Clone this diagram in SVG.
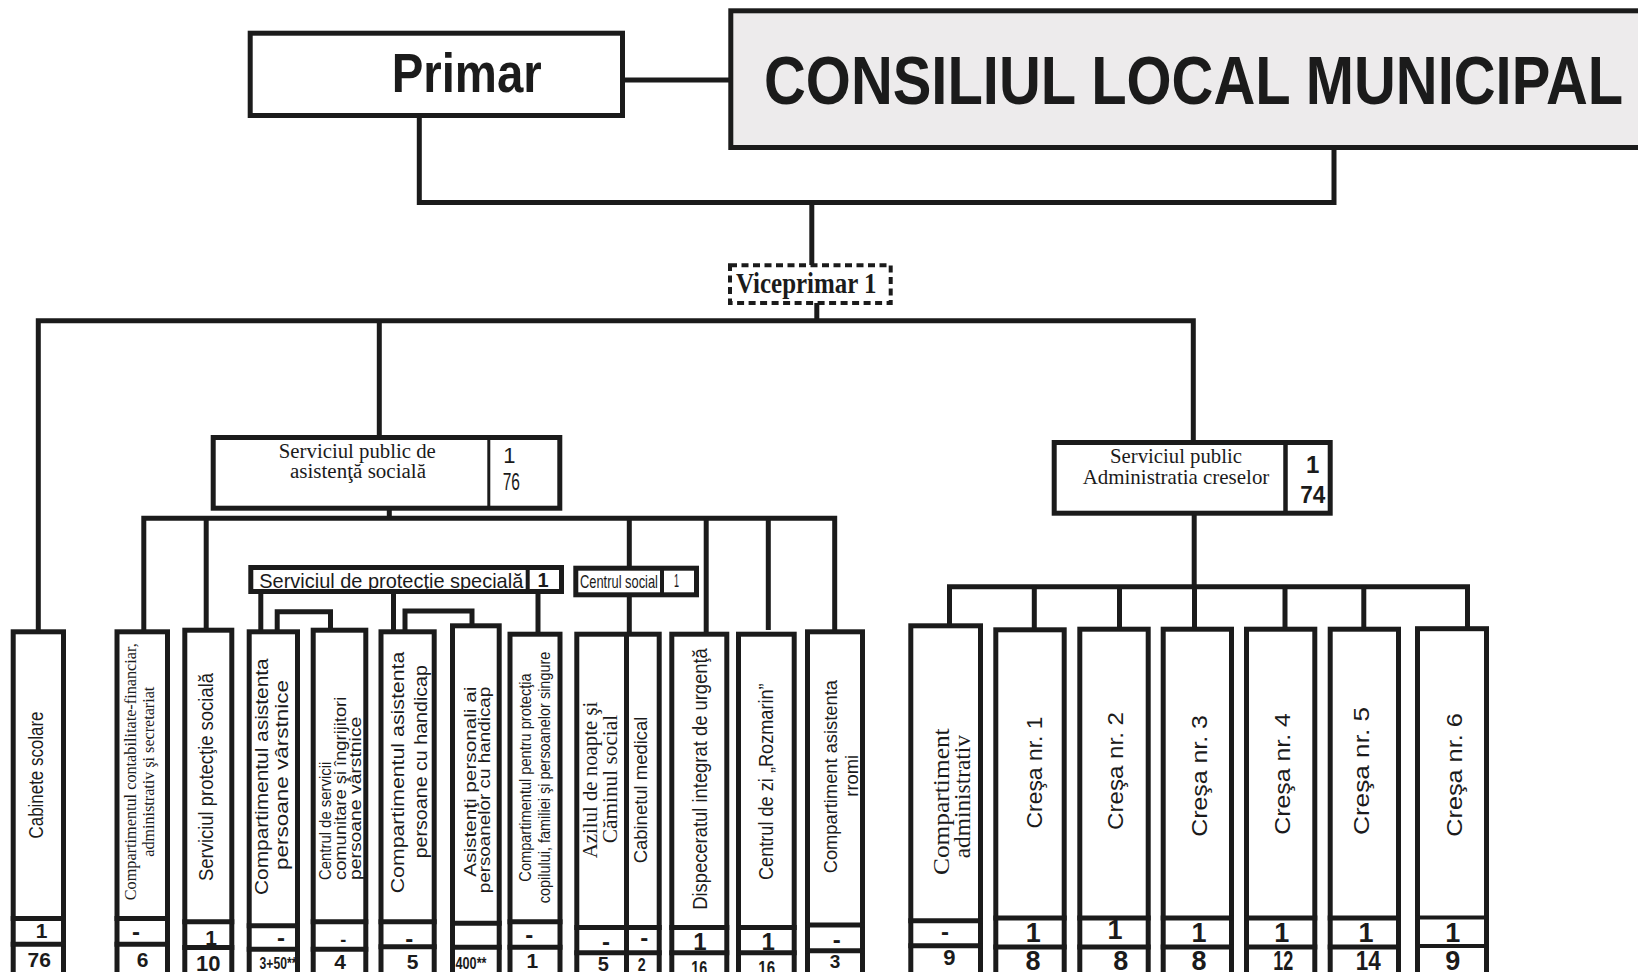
<svg xmlns="http://www.w3.org/2000/svg" width="1638" height="972" viewBox="0 0 1638 972">
<style>
.ln{fill:none;stroke:#1b1b1b;stroke-width:5;stroke-linejoin:miter}
.bx{fill:#fff;stroke:#1b1b1b;stroke-width:5}
.dv{stroke:#1b1b1b;stroke-width:5}
.sans{font-family:"Liberation Sans",Arial,sans-serif;fill:#1b1b1b}
.serif{font-family:"Liberation Serif","Times New Roman",serif;fill:#1b1b1b}
.num{font-family:"Liberation Sans",Arial,sans-serif;font-weight:bold;text-anchor:middle;fill:#1b1b1b}
.m{text-anchor:middle}
.s{text-anchor:start}
</style>
<rect x="0" y="0" width="1638" height="972" fill="#fff"/>
<g id="connectors">
<path class="ln" d="M625 80 H731"/>
<path class="ln" d="M419.3 118 V202.5 H1334 V148"/>
<path class="ln" d="M811.8 202.5 V265"/>
<path class="ln" d="M816.8 303 V320.8"/>
<path class="ln" d="M38.3 632 V320.8 H1193.3 V442"/>
<path class="ln" d="M379.3 320.8 V437"/>
<path class="ln" d="M389.3 508 V518.3"/>
<path class="ln" d="M143.8 632 V518.3 H834.7 V632"/>
<path class="ln" d="M206.2 518.3 V630"/>
<path class="ln" d="M629.3 518.3 V568"/>
<path class="ln" d="M629.3 595 V634"/>
<path class="ln" d="M706.2 518.3 V634"/>
<path class="ln" d="M768.3 518.3 V630"/>
<path class="ln" d="M260.8 592 V632"/>
<path class="ln" d="M393.5 592 V632"/>
<path class="ln" d="M538 592 V634"/>
<path class="ln" d="M277.2 632 V611.7 H330.5 V630"/>
<path class="ln" d="M405 632 V611 H472 V626"/>
<path class="ln" d="M1194.2 513 V586.8"/>
<path class="ln" d="M949.5 626 V586.8 H1467.5 V631"/>
<path class="ln" d="M1034.3 586.8 V630 M1119.5 586.8 V630 M1194.5 586.8 V630 M1285 586.8 V630 M1363.8 586.8 V630"/>
</g>

<g id="primar">
<rect class="bx" x="250.2" y="33.2" width="372.3" height="82.3"/>
<text class="sans" transform="translate(391.7 92.3) scale(0.861 1)" font-size="55" font-weight="bold">Primar</text>
</g>

<g id="consiliul">
<rect x="730.8" y="10.8" width="920" height="136.7" fill="#edebec" stroke="#1b1b1b" stroke-width="5"/>
<text class="sans" transform="translate(764 104) scale(0.852 1)" font-size="68" font-weight="bold">CONSILIUL LOCAL MUNICIPAL</text>
</g>

<g id="viceprimar">
<rect x="730" y="265.3" width="160.7" height="37.7" fill="#fff" stroke="#1b1b1b" stroke-width="4" stroke-dasharray="7 4.5"/>
<text class="serif" transform="translate(736 292.7) scale(0.831 1)" font-size="30" font-weight="bold">Viceprimar 1</text>
</g>

<g id="spas">
<rect class="bx" x="213.2" y="437.5" width="346.6" height="70.7"/>
<line x1="488.8" y1="437.5" x2="488.8" y2="508.2" stroke="#1b1b1b" stroke-width="3"/>
<text class="serif m" x="357.3" y="458.3" font-size="20.5" textLength="157" lengthAdjust="spacingAndGlyphs">Serviciul public de</text>
<text class="serif m" x="358" y="478.3" font-size="20.5" textLength="136" lengthAdjust="spacingAndGlyphs">asistenţă socială</text>
<text class="sans m" x="509.3" y="463.3" font-size="22">1</text>
<text class="sans m" transform="translate(511.3 490) scale(0.676 1)" font-size="23">76</text>
</g>

<g id="spac">
<rect class="bx" x="1054.2" y="442.5" width="276" height="70.7"/>
<line x1="1285.5" y1="442.5" x2="1285.5" y2="513.2" stroke="#1b1b1b" stroke-width="4.5"/>
<text class="serif m" x="1176" y="463.3" font-size="21" textLength="132" lengthAdjust="spacingAndGlyphs">Serviciul public</text>
<text class="serif m" x="1176" y="484.3" font-size="21" textLength="186.7" lengthAdjust="spacingAndGlyphs">Administratia creselor</text>
<text class="num" x="1312.7" y="472.7" font-size="24">1</text>
<text class="num" transform="translate(1312.7 502.7) scale(0.94 1)" font-size="24">74</text>
</g>

<g id="sps">
<rect class="bx" x="250.8" y="567.5" width="310.7" height="24"/>
<line x1="527.7" y1="567.5" x2="527.7" y2="591.5" stroke="#1b1b1b" stroke-width="4"/>
<text class="sans" transform="translate(259.3 588.3) scale(0.974 1)" font-size="20.5">Serviciul de protecţie specială</text>
<text class="num" x="543" y="587" font-size="20">1</text>
</g>

<g id="centrul-social">
<rect class="bx" x="575.8" y="568.2" width="120.7" height="26.6"/>
<line x1="662" y1="568.2" x2="662" y2="594.8" stroke="#1b1b1b" stroke-width="4"/>
<text class="sans" transform="translate(580 588) scale(0.678 1)" font-size="19">Centrul social</text>
<text class="sans m" transform="translate(676.5 587) scale(0.5 1)" font-size="18">1</text>
</g>

<g id="cabinete">
<rect class="bx" x="13.2" y="631.8" width="50.3" height="360"/>
<line class="dv" x1="10.7" y1="918.5" x2="66" y2="918.5"/>
<line class="dv" x1="10.7" y1="944.2" x2="66" y2="944.2"/>
<text class="sans m" transform="translate(42.7 775) rotate(-90)" font-size="20" textLength="127" lengthAdjust="spacingAndGlyphs">Cabinete scolare</text>
<text class="num" x="41.7" y="938.3" font-size="21">1</text>
<text class="num" x="39.3" y="967.3" font-size="21">76</text>
</g>

<g id="contabilitate">
<rect class="bx" x="117" y="631.8" width="50.5" height="360"/>
<line class="dv" x1="114.5" y1="918.5" x2="170" y2="918.5"/>
<line class="dv" x1="114.5" y1="944.2" x2="170" y2="944.2"/>
<text class="serif m" transform="translate(136 771.7) rotate(-90)" font-size="17" textLength="257" lengthAdjust="spacingAndGlyphs">Compartimentul contabilitate-financiar,</text>
<text class="serif m" transform="translate(154 771.7) rotate(-90)" font-size="17" textLength="170" lengthAdjust="spacingAndGlyphs">administrativ şi secretariat</text>
<text class="num" x="136" y="939.6" font-size="24">-</text>
<text class="num" x="142.7" y="967.3" font-size="21">6</text>
</g>

<g id="protectie-sociala">
<rect class="bx" x="184.8" y="630.2" width="47" height="360"/>
<line class="dv" x1="182.3" y1="921.7" x2="234.3" y2="921.7"/>
<line class="dv" x1="182.3" y1="947.5" x2="234.3" y2="947.5"/>
<text class="sans m" transform="translate(213.3 777) rotate(-90)" font-size="20" textLength="208" lengthAdjust="spacingAndGlyphs">Serviciul protecţie socială</text>
<text class="num" x="211" y="944.5" font-size="21">1</text>
<text class="num" x="208.3" y="970.5" font-size="22">10</text>
</g>

<g id="asistenta-varstnice">
<rect class="bx" x="249.2" y="631.8" width="48.3" height="360"/>
<line class="dv" x1="246.7" y1="925.8" x2="300" y2="925.8"/>
<line class="dv" x1="246.7" y1="949.2" x2="300" y2="949.2"/>
<text class="sans m" transform="translate(268.3 776.7) rotate(-90)" font-size="19" textLength="236.7" lengthAdjust="spacingAndGlyphs">Compartimentul asistenta</text>
<text class="sans m" transform="translate(288.3 775) rotate(-90)" font-size="19" textLength="190" lengthAdjust="spacingAndGlyphs">persoane vârstnice</text>
<text class="num" x="281" y="946" font-size="24">-</text>
<text class="num" transform="translate(278 969) scale(0.718 1)" font-size="17">3+50**</text>
</g>

<g id="centrul-servicii">
<rect class="bx" x="313.2" y="630.2" width="52.6" height="360"/>
<line class="dv" x1="310.7" y1="921.7" x2="368.3" y2="921.7"/>
<line class="dv" x1="310.7" y1="949.2" x2="368.3" y2="949.2"/>
<text class="sans s" transform="translate(331 880) rotate(-90)" font-size="16" textLength="118.3" lengthAdjust="spacingAndGlyphs">Centrul de servicii</text>
<text class="sans s" transform="translate(345.7 880) rotate(-90)" font-size="16" textLength="183.3" lengthAdjust="spacingAndGlyphs">comunitare şi îngrijitori</text>
<text class="sans s" transform="translate(361 880) rotate(-90)" font-size="16" textLength="163.3" lengthAdjust="spacingAndGlyphs">persoane vârstnice</text>
<text class="num" x="343.3" y="945.5" font-size="18">-</text>
<text class="num" x="340" y="969" font-size="21">4</text>
</g>

<g id="asistenta-handicap">
<rect class="bx" x="381" y="631.8" width="53.2" height="360"/>
<line class="dv" x1="378.5" y1="921.7" x2="436.7" y2="921.7"/>
<line class="dv" x1="378.5" y1="946.7" x2="436.7" y2="946.7"/>
<text class="sans m" transform="translate(404 772.5) rotate(-90)" font-size="19" textLength="241.7" lengthAdjust="spacingAndGlyphs">Compartimentul asistenta</text>
<text class="sans m" transform="translate(426.5 761.7) rotate(-90)" font-size="19" textLength="193.3" lengthAdjust="spacingAndGlyphs">persoane cu handicap</text>
<text class="num" x="409.3" y="946.6" font-size="24">-</text>
<text class="num" x="412.7" y="969" font-size="21">5</text>
</g>

<g id="asistenti-personali">
<rect class="bx" x="452.5" y="625.8" width="46.7" height="360"/>
<line class="dv" x1="450" y1="923.3" x2="501.7" y2="923.3"/>
<line class="dv" x1="450" y1="947.2" x2="501.7" y2="947.2"/>
<text class="sans m" transform="translate(476 781.7) rotate(-90)" font-size="17" textLength="190" lengthAdjust="spacingAndGlyphs">Asistenţi personali ai</text>
<text class="sans m" transform="translate(489.5 790) rotate(-90)" font-size="17" textLength="206.7" lengthAdjust="spacingAndGlyphs">persoanelor cu handicap</text>
<text class="num" transform="translate(471 969) scale(0.745 1)" font-size="17">400**</text>
</g>

<g id="protectia-copilului">
<rect class="bx" x="510" y="634.2" width="50" height="360"/>
<line class="dv" x1="507.5" y1="921.7" x2="562.5" y2="921.7"/>
<line class="dv" x1="507.5" y1="947.2" x2="562.5" y2="947.2"/>
<text class="sans m" transform="translate(531.2 777.5) rotate(-90)" font-size="16.5" textLength="208.3" lengthAdjust="spacingAndGlyphs">Compartimentul pentru protecţia</text>
<text class="sans m" transform="translate(550 777.5) rotate(-90)" font-size="16.5" textLength="251.7" lengthAdjust="spacingAndGlyphs">copilului, familiei şi persoanelor singure</text>
<text class="num" x="529.3" y="943.3" font-size="24">-</text>
<text class="num" x="532.3" y="968.3" font-size="21">1</text>
</g>

<g id="azil-cabinet">
<rect class="bx" x="576.8" y="634.2" width="82.4" height="360"/>
<line class="dv" x1="626.5" y1="634" x2="626.5" y2="985"/>
<line class="dv" x1="574.3" y1="927.5" x2="661.7" y2="927.5"/>
<line class="dv" x1="574.3" y1="952.8" x2="661.7" y2="952.8"/>
<text class="serif m" transform="translate(596.5 780) rotate(-90)" font-size="20.5" textLength="156.7" lengthAdjust="spacingAndGlyphs">Azilul de noapte şi</text>
<text class="serif m" transform="translate(616.5 779) rotate(-90)" font-size="20.5" textLength="128.3" lengthAdjust="spacingAndGlyphs">Căminul social</text>
<text class="sans m" transform="translate(647.3 790) rotate(-90)" font-size="19" textLength="146.7" lengthAdjust="spacingAndGlyphs">Cabinetul medical</text>
<text class="num" x="606" y="950" font-size="24">-</text>
<text class="num" x="644.3" y="946" font-size="24">-</text>
<text class="num" x="603.3" y="971" font-size="20">5</text>
<text class="num" transform="translate(641.7 971) scale(0.75 1)" font-size="19">2</text>
</g>

<g id="dispecerat">
<rect class="bx" x="671.8" y="634.2" width="55" height="360"/>
<line class="dv" x1="669.3" y1="927.5" x2="729.3" y2="927.5"/>
<line class="dv" x1="669.3" y1="952.8" x2="729.3" y2="952.8"/>
<text class="sans m" transform="translate(706.7 779) rotate(-90)" font-size="20" textLength="261.7" lengthAdjust="spacingAndGlyphs">Dispeceratul integrat de urgenţă</text>
<text class="num" x="700" y="949.5" font-size="24">1</text>
<text class="num" transform="translate(699.3 975) scale(0.684 1)" font-size="21">16</text>
</g>

<g id="rozmarin">
<rect class="bx" x="738.5" y="634.2" width="55.7" height="360"/>
<line class="dv" x1="736" y1="927.5" x2="796.7" y2="927.5"/>
<line class="dv" x1="736" y1="952.8" x2="796.7" y2="952.8"/>
<text class="sans m" transform="translate(772.7 781.7) rotate(-90)" font-size="20" textLength="196.7" lengthAdjust="spacingAndGlyphs">Centrul de zi „Rozmarin”</text>
<text class="num" x="768.3" y="949.5" font-size="24">1</text>
<text class="num" transform="translate(766.7 975) scale(0.72 1)" font-size="21">16</text>
</g>

<g id="rromi">
<rect class="bx" x="807.5" y="631.8" width="55" height="360"/>
<line class="dv" x1="805" y1="925" x2="865" y2="925"/>
<line class="dv" x1="805" y1="950.8" x2="865" y2="950.8"/>
<text class="sans m" transform="translate(836.7 776.7) rotate(-90)" font-size="19" textLength="193.3" lengthAdjust="spacingAndGlyphs">Compartiment asistenta</text>
<text class="sans m" transform="translate(858.3 775.8) rotate(-90)" font-size="19" textLength="41.7" lengthAdjust="spacingAndGlyphs">rromi</text>
<text class="num" x="836.7" y="948.3" font-size="24">-</text>
<text class="num" x="835" y="968.3" font-size="19">3</text>
</g>

<g id="administrativ">
<rect class="bx" x="910.8" y="625.8" width="69.7" height="360"/>
<line class="dv" x1="908.3" y1="920.8" x2="983" y2="920.8"/>
<line class="dv" x1="908.3" y1="945.8" x2="983" y2="945.8"/>
<text class="serif m" transform="translate(949 801.7) rotate(-90)" font-size="23" textLength="146.7" lengthAdjust="spacingAndGlyphs">Compartiment</text>
<text class="serif m" transform="translate(970 796.7) rotate(-90)" font-size="23" textLength="123.3" lengthAdjust="spacingAndGlyphs">administrativ</text>
<text class="num" x="945" y="940" font-size="24">-</text>
<text class="num" x="949.3" y="965" font-size="22">9</text>
</g>

<g id="cresa1">
<rect class="bx" x="995.8" y="629.8" width="68.4" height="360"/>
<line class="dv" x1="993.3" y1="918" x2="1066.7" y2="918"/>
<line class="dv" x1="993.3" y1="947" x2="1066.7" y2="947"/>
<text class="sans m" transform="translate(1042 772.5) rotate(-90)" font-size="22" textLength="112" lengthAdjust="spacingAndGlyphs">Creşa nr. 1</text>
<text class="num" x="1033.3" y="941.7" font-size="27">1</text>
<text class="num" x="1033" y="970" font-size="27">8</text>
</g>

<g id="cresa2">
<rect class="bx" x="1079.8" y="629.2" width="68.4" height="360"/>
<line class="dv" x1="1077.3" y1="918" x2="1150.7" y2="918"/>
<line class="dv" x1="1077.3" y1="947" x2="1150.7" y2="947"/>
<text class="sans m" transform="translate(1122.7 771) rotate(-90)" font-size="22" textLength="118" lengthAdjust="spacingAndGlyphs">Creşa nr. 2</text>
<text class="num" x="1115" y="939.3" font-size="27">1</text>
<text class="num" x="1120.7" y="970" font-size="27">8</text>
</g>

<g id="cresa3">
<rect class="bx" x="1163.2" y="629.2" width="68.3" height="360"/>
<line class="dv" x1="1160.7" y1="918" x2="1234" y2="918"/>
<line class="dv" x1="1160.7" y1="947" x2="1234" y2="947"/>
<text class="sans m" transform="translate(1206.7 776) rotate(-90)" font-size="22" textLength="121.7" lengthAdjust="spacingAndGlyphs">Creşa nr. 3</text>
<text class="num" x="1199" y="941.7" font-size="27">1</text>
<text class="num" x="1199" y="970" font-size="27">8</text>
</g>

<g id="cresa4">
<rect class="bx" x="1246.5" y="629.2" width="68.3" height="360"/>
<line class="dv" x1="1244" y1="918" x2="1317.3" y2="918"/>
<line class="dv" x1="1244" y1="947" x2="1317.3" y2="947"/>
<text class="sans m" transform="translate(1290 774) rotate(-90)" font-size="22" textLength="121.7" lengthAdjust="spacingAndGlyphs">Creşa nr. 4</text>
<text class="num" x="1281.7" y="941.7" font-size="27">1</text>
<text class="num" transform="translate(1283.3 970) scale(0.667 1)" font-size="27">12</text>
</g>

<g id="cresa5">
<rect class="bx" x="1330.2" y="629.2" width="68.3" height="360"/>
<line class="dv" x1="1327.7" y1="918" x2="1401" y2="918"/>
<line class="dv" x1="1327.7" y1="947" x2="1401" y2="947"/>
<text class="sans m" transform="translate(1369.3 771) rotate(-90)" font-size="22" textLength="128" lengthAdjust="spacingAndGlyphs">Creşa nr. 5</text>
<text class="num" x="1366" y="941.7" font-size="27">1</text>
<text class="num" transform="translate(1368.3 970) scale(0.833 1)" font-size="27">14</text>
</g>

<g id="cresa6">
<rect class="bx" x="1417.5" y="628.7" width="69" height="360"/>
<line x1="1415" y1="917.5" x2="1489" y2="917.5" stroke="#1b1b1b" stroke-width="4"/>
<line x1="1415" y1="946" x2="1489" y2="946" stroke="#1b1b1b" stroke-width="4"/>
<text class="sans m" transform="translate(1461.7 775) rotate(-90)" font-size="22" textLength="123.3" lengthAdjust="spacingAndGlyphs">Creşa nr. 6</text>
<text class="num" x="1452.7" y="941.7" font-size="27">1</text>
<text class="num" x="1452.7" y="970" font-size="27">9</text>
</g>
</svg>
